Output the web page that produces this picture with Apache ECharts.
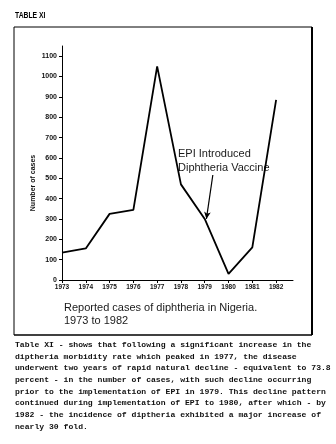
<!DOCTYPE html>
<html>
<head>
<meta charset="utf-8">
<script src="https://cdn.jsdelivr.net/npm/echarts@6/dist/echarts.min.js"></script>
<style>
  html, body { margin: 0; padding: 0; background: #fff; }
  #chart { width: 336px; height: 444px; }
</style>
</head>
<body>
<div id="chart"></div>
<script>
// Reported diphtheria cases in Nigeria, 1973-1982
const years = [1973, 1974, 1975, 1976, 1977, 1978, 1979, 1980, 1981, 1982];
const cases = [135, 155, 325, 345, 1050, 470, 300, 30, 160, 885];
const yTickValues = [0, 100, 200, 300, 400, 500, 600, 700, 800, 900, 1000, 1100];
const xTickValues = years;

// arrow for the EPI note: tail and head in [year, cases]
const arrowTail = [1979.34, 516];
const arrowHead = [1979.07, 300];

const noteLines = ['EPI Introduced', 'Diphtheria Vaccine'];
const captionLines = ['Reported cases of diphtheria in Nigeria.', '1973 to 1982'];
const bodyLines = [
  'Table XI - shows that following a significant increase in the',
  'diptheria morbidity rate which peaked in 1977, the disease',
  'underwent two years of rapid natural decline - equivalent to 73.8',
  'percent - in the number of cases, with such decline occurring',
  'prior to the implementation of EPI in 1979. This decline pattern',
  'continued during implementation of EPI to 1980, after which - by',
  '1982 - the incidence of diptheria exhibited a major increase of',
  'nearly 30 fold.'
];

const chart = echarts.init(document.getElementById('chart'), null, { renderer: 'canvas' });

const tickFont = { fontFamily: 'Liberation Sans', fontWeight: 'bold', color: '#111' };

chart.setOption({
  animation: false,
  backgroundColor: '#fff',
  grid: { left: 62, right: 43, top: 46, bottom: 164 },
  xAxis: {
    type: 'value',
    min: 1973,
    max: 1982.71,
    interval: 1,
    splitLine: { show: false },
    axisLine: { lineStyle: { color: '#000', width: 1 } },
    axisTick: { show: true, length: 3, customValues: xTickValues, lineStyle: { color: '#000' } },
    axisLabel: Object.assign({ fontSize: 6.5, margin: 4, customValues: xTickValues,
      formatter: v => String(v) }, tickFont)
  },
  yAxis: {
    type: 'value',
    min: 0,
    max: 1150,
    interval: 100,
    splitLine: { show: false },
    axisLine: { show: true, lineStyle: { color: '#000', width: 1 } },
    axisTick: { show: true, length: 3, customValues: yTickValues, lineStyle: { color: '#000' } },
    axisLabel: Object.assign({ fontSize: 7, margin: 5, customValues: yTickValues,
      formatter: v => String(v) }, tickFont)
  },
  series: [{
    type: 'line',
    data: years.map((y, i) => [y, cases[i]]),
    symbol: 'none',
    lineStyle: { color: '#000', width: 1.8 },
    markLine: {
      silent: true,
      symbol: ['none', 'arrow'],
      symbolSize: [5, 7],
      label: { show: false },
      lineStyle: { color: '#000', width: 1.2, type: 'solid' },
      data: [[{ coord: arrowTail }, { coord: arrowHead }]]
    }
  }],
  graphic: [
    // outer frame
    { type: 'line', shape: { x1: 14, y1: 27, x2: 312, y2: 27 }, style: { stroke: '#000', lineWidth: 1 } },
    { type: 'line', shape: { x1: 14, y1: 27, x2: 14, y2: 335 }, style: { stroke: '#000', lineWidth: 1 } },
    { type: 'line', shape: { x1: 312, y1: 27, x2: 312, y2: 335 }, style: { stroke: '#000', lineWidth: 2 } },
    { type: 'line', shape: { x1: 14, y1: 335, x2: 312, y2: 335 }, style: { stroke: '#000', lineWidth: 1.5 } },
    // heading
    { type: 'text', x: 15, y: 16, scaleX: 0.8,
      style: { text: 'TABLE XI', font: 'bold 8.5px "Liberation Sans"', fill: '#000', textVerticalAlign: 'middle' } },
    // y axis name
    { type: 'text', x: 33, y: 183, rotation: Math.PI / 2,
      style: { text: 'Number of cases', font: 'bold 7px "Liberation Sans"', fill: '#111',
        textAlign: 'center', textVerticalAlign: 'middle' } },
    // EPI note
    { type: 'text', x: 178, y: 147,
      style: { text: noteLines.join('\n'), font: '11px "Liberation Sans"', lineHeight: 14, fill: '#1a1a1a' } },
    // caption
    { type: 'text', x: 64, y: 301,
      style: { text: captionLines.join('\n'), font: '11px "Liberation Sans"', lineHeight: 13.5, fill: '#1a1a1a' } },
    // description paragraph
    { type: 'text', x: 15, y: 339,
      style: { text: bodyLines.join('\n'), font: 'bold 8.1px "Liberation Mono"', lineHeight: 11.7, fill: '#111' } }
  ]
});
</script>
</body>
</html>
